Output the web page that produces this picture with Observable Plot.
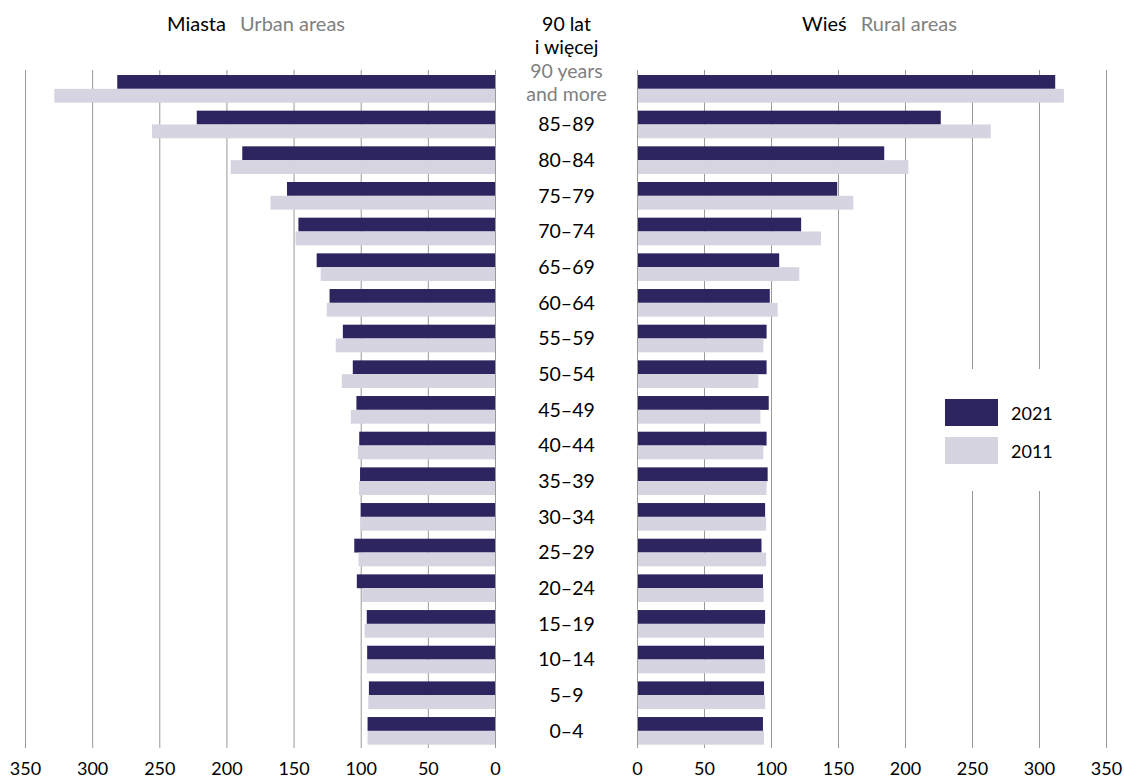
<!DOCTYPE html>
<html>
<head>
<meta charset="utf-8">
<script src="https://cdn.jsdelivr.net/npm/d3@7"></script>
<script src="https://cdn.jsdelivr.net/npm/@observablehq/plot@0.6"></script>
<style>
  body { margin: 0; background: #fff; font-family: Lato, "Noto Sans", sans-serif; }
  #wrap { position: relative; width: 1124px; height: 783px; overflow: hidden; background: #fff; }
  .panel { position: absolute; top: 0; }
  .hdr { position: absolute; top: 11px; font-size: 20px; line-height: 24px; white-space: nowrap; color: #000; }
  .hdr .en { color: #808080; margin-left: 14px; }
  #legend { position: absolute; left: 915px; top: 369px; width: 175px; height: 122px; background: #fff; }
  .sw { position: absolute; left: 30px; width: 53px; height: 27px; }
  .lab { position: absolute; left: 96px; font-size: 18px; line-height: 22px; color: #000; }
</style>
</head>
<body>
<div id="wrap">
  <div class="hdr" style="left:167px">Miasta<span class="en">Urban areas</span></div>
  <div class="hdr" style="left:802px">Wieś<span class="en">Rural areas</span></div>
  <div id="left" class="panel" style="left:0"></div>
  <div id="right" class="panel" style="left:566px"></div>
  <div id="legend"></div>
</div>
<script>
// ---- data (top row first) ----
const ages = ["90+", "85–89", "80–84", "75–79", "70–74", "65–69", "60–64", "55–59", "50–54", "45–49",
              "40–44", "35–39", "30–34", "25–29", "20–24", "15–19", "10–14", "5–9", "0–4"];
const topLabelPL = "90 lat\ni więcej";
const topLabelEN = "90 years\nand more";
const urban2021 = [281.3, 222.1, 188.2, 154.9, 146.4, 132.8, 123.2, 113.3, 105.9, 103.2, 101.1, 100.5, 100.0, 104.8, 102.9, 95.5, 95.2, 93.9, 94.9];
const urban2011 = [328.2, 255.4, 196.8, 167.2, 148.5, 129.8, 125.3, 118.6, 114.1, 107.4, 102.1, 101.3, 100.3, 101.6, 98.9, 97.1, 95.5, 94.4, 94.9];
const rural2021 = [312.1, 226.7, 184.5, 149.4, 122.5, 106.1, 99.1, 96.7, 96.7, 98.3, 96.7, 97.5, 95.6, 92.9, 94.0, 95.6, 94.8, 94.8, 94.0];
const rural2011 = [318.6, 264.0, 202.5, 161.4, 137.3, 121.1, 105.0, 94.3, 90.5, 92.1, 94.3, 96.7, 96.4, 96.4, 94.5, 94.8, 95.6, 95.6, 94.8];
const xTicks = [0, 50, 100, 150, 200, 250, 300, 350];
const years = ["2021", "2011"];
const colors = ["#2c2560", "#d6d4e0"];

// ---- layout ----
const H = 783, top0 = 75, bottom0 = 744.7, pad = 0.225;
const step = (bottom0 - top0) / (ages.length - pad);
const half = step * (1 - pad) / 2;
const grid = "#999999";
const font = "Lato, 'Noto Sans', sans-serif";

const rows = ages.map((age, i) => ({
  age, u21: urban2021[i], u11: urban2011[i], r21: rural2021[i], r11: rural2011[i]
}));

const yScale = {domain: ages, range: [top0, bottom0], paddingInner: pad, paddingOuter: 0, round: false, axis: null};
const svgStyle = {background: "transparent", fontFamily: font, fontSize: "18px", overflow: "visible"};

function panel(k21, k11, reverse, width, mLeft, mRight, extra) {
  return Plot.plot({
    width, height: H,
    marginLeft: mLeft, marginRight: mRight, marginTop: 70, marginBottom: 35,
    style: svgStyle,
    x: {domain: [0, 350], reverse, axis: null},
    y: yScale,
    marks: [
      Plot.ruleX(xTicks.filter(d => d !== 0), {stroke: grid, strokeWidth: 1}),
      Plot.barX(rows, {y: "age", x: k21, fill: colors[0], insetBottom: half}),
      Plot.barX(rows, {y: "age", x: k11, fill: colors[1], insetTop: half}),
      Plot.ruleX([0], {stroke: grid, strokeWidth: 1}),
      Plot.text(xTicks, {x: d => d, text: d => String(d), frameAnchor: "bottom", dy: 26, fontSize: 18, fill: "#000"}),
      ...extra
    ]
  });
}

const centerLabels = [
  Plot.text(rows.slice(1), {y: "age", text: "age", frameAnchor: "right", dx: 71, textAnchor: "middle",
    fontSize: 19.5, fill: "#000"}),
  Plot.text(rows.slice(0, 1), {y: "age", text: () => topLabelPL, frameAnchor: "right", dx: 71, dy: -35,
    textAnchor: "middle", lineAnchor: "bottom", lineHeight: 1.2, fontSize: 19.5, fill: "#000"}),
  Plot.text(rows.slice(0, 1), {y: "age", text: () => topLabelEN, frameAnchor: "right", dx: 71, dy: 11.7,
    textAnchor: "middle", lineAnchor: "bottom", lineHeight: 1.2, fontSize: 19.5, fill: "#808080"})
];

document.getElementById("left").append(panel("u21", "u11", true, 637, 25, 142, centerLabels));
document.getElementById("right").append(panel("r21", "r11", false, 558, 71, 18, []));

// ---- legend ----
const lg = document.getElementById("legend");
years.forEach((y, i) => {
  const sw = document.createElement("div");
  sw.className = "sw";
  sw.style.top = (30 + i * 38) + "px";
  sw.style.background = colors[i];
  lg.append(sw);
  const lab = document.createElement("div");
  lab.className = "lab";
  lab.style.top = (33 + i * 37.7) + "px";
  lab.textContent = y;
  lg.append(lab);
});
</script>
</body>
</html>
